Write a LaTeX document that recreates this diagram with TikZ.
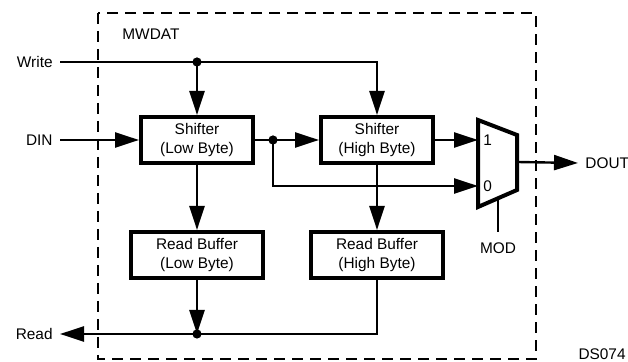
\documentclass[tikz,border=0pt]{standalone}
\usepackage{fontspec}
\setmainfont{Liberation Sans}
\usepackage{tikz}
\usetikzlibrary{arrows.meta,positioning}

\begin{document}
\begin{tikzpicture}[
  x=0.5pt,y=-0.5pt,
  font=\fontsize{7.7}{9.4}\selectfont,
  blk/.style={draw,line width=2pt,align=center,inner sep=0pt,
    minimum height=23pt},
  wire/.style={line width=1.2pt},
  arr/.style={wire,-{Triangle[length=12pt,width=7.5pt]}},
  frame/.style={line width=1.2pt,dash pattern=on 5.5pt off 3.5pt},
  lbl/.style={inner sep=0pt},
  sig/.style={inner sep=3.5pt}
]
\useasboundingbox (0,0) rectangle (628,362);
% outer frame
\draw[frame] (98,13) rectangle (536,359);
\node[lbl,anchor=west] (mwdat) at (122,34) {MWDAT};
% blocks
\node[blk,minimum width=56pt] (shlo) at (197,140) {Shifter\\(Low Byte)};
\node[blk,minimum width=56pt] (shhi) at (377,140) {Shifter\\(High Byte)};
\node[blk,minimum width=66pt] (rblo) at (197,255) {Read Buffer\\(Low Byte)};
\node[blk,minimum width=66pt] (rbhi) at (377,255) {Read Buffer\\(High Byte)};
% mux
\draw[line width=2pt,line join=miter] (478,120) -- (517,135) -- (517,190) -- (478,207) -- cycle;
\coordinate (mux1) at (478,140);
\coordinate (mux0) at (478,186);
\coordinate (muxo) at (517,162);
\coordinate (muxs) at (498,199);
\node[lbl,anchor=west] at (483,140) {1};
\node[lbl,anchor=west] at (483,186) {0};
% signals
\node[sig,anchor=east] (write) at (60,62) {Write};
\node[sig,anchor=east] (din) at (60,140) {DIN};
\node[sig,anchor=east] (read) at (60,334) {Read};
\node[sig,anchor=west] (dout) at (578,163) {DOUT};
\node[lbl,anchor=north] (mod) at (498,242) {MOD};
\node[lbl,anchor=east] (ds) at (626,354) {DS074};
\coordinate (wdot) at (197,62);
\coordinate (sdot) at (273,140);
\coordinate (rdot) at (197,334);
% connectors
\draw[arr] (write.east) -| (shhi.north);
\draw[arr] (wdot) -- (shlo.north);
\draw[arr] (din.east) -- (shlo.west);
\draw[arr] (shlo.east) -- (shhi.west);
\draw[arr] (shhi.east) -- (mux1);
\draw[arr] (sdot) |- (mux0);
\draw[arr] (muxo) -- (dout.west);
\draw[wire,shorten >=5pt] (muxs) -- (mod.north);
\draw[arr] (shlo.south) -- (rblo.north);
\draw[arr] (shhi.south) -- (rbhi.north);
\draw[arr] (rblo.south) -- (rdot);
\draw[arr] (rbhi.south) |- (rdot) -- (read.east);
\foreach \d in {wdot,sdot,rdot} \fill (\d) circle (2.3pt);
\end{tikzpicture}
\end{document}
